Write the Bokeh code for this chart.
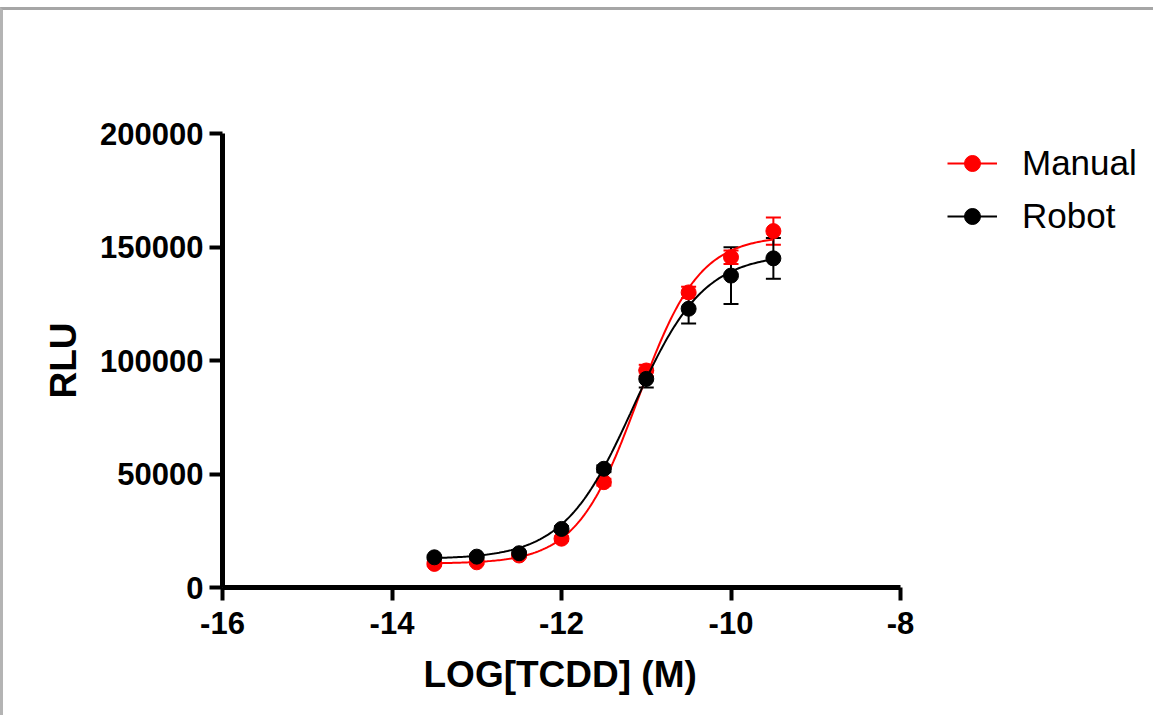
import numpy as np
from bokeh.plotting import figure
from bokeh.models import (Range1d, FixedTicker, Legend, LegendItem, Whisker,
                          ColumnDataSource, TeeHead, Title)
from bokeh.embed import file_html
from bokeh.resources import INLINE

# ---- data ----
log_tcdd = [-13.5, -13.0, -12.5, -12.0, -11.5, -11.0, -10.5, -10.0, -9.5]
manual_mean = [10400, 11100, 14100, 21500, 46400, 95600, 130000, 145500, 157000]
manual_sem = [800, 800, 800, 1000, 1500, 2500, 2500, 3000, 6000]
robot_mean = [13300, 13600, 15100, 25800, 52300, 91900, 122800, 137400, 145000]
robot_sem = [800, 800, 800, 1200, 1500, 3800, 6500, 12500, 9000]

# fitted 4-parameter logistic curves (bottom, top, logEC50, hill slope)
manual_fit = dict(bottom=10500, top=155000, logec50=-11.10, hill=1.20)
robot_fit = dict(bottom=12500, top=147000, logec50=-11.15, hill=1.05)

x_ticks = [-16, -14, -12, -10, -8]
y_ticks = [0, 50000, 100000, 150000, 200000]
series_names = ["Manual", "Robot"]
series_colors = ["#ff0000", "#000000"]
x_title = "LOG[TCDD] (M)"
y_title = "RLU"

FONT = "Liberation Sans"

# layout: the x axis spans 678 px for [-16, -8]; the frame continues to the
# right so the legend can sit beside the axes inside the frame
AXIS_PX = 678
FRAME_W = 931
FRAME_H = 454
x_start, x_end_axis = x_ticks[0], x_ticks[-1]
x_end = x_start + (x_end_axis - x_start) * FRAME_W / AXIS_PX


def fit_curve(params, xs):
    return params["bottom"] + (params["top"] - params["bottom"]) / (
        1 + 10 ** ((params["logec50"] - xs) * params["hill"]))


p = figure(frame_width=FRAME_W, frame_height=FRAME_H,
           output_backend="svg", toolbar_location=None,
           x_range=Range1d(x_start, x_end), y_range=Range1d(y_ticks[0], y_ticks[-1]),
           min_border_left=219, min_border_right=0,
           min_border_top=123, min_border_bottom=128)
p.styles = {"margin-top": "7px",
            "border-top": "3px solid #a6a6a6",
            "border-left": "3px solid #b4b4b4"}
p.outline_line_color = None
p.grid.visible = False
p.background_fill_color = "white"
p.border_fill_color = "white"

for ax in (p.xaxis[0], p.yaxis[0]):
    ax.axis_line_width = 5
    ax.axis_line_color = "black"
    ax.major_tick_line_width = 4
    ax.major_tick_line_color = "black"
    ax.major_tick_out = 13
    ax.major_tick_in = 0
    ax.minor_tick_line_color = None
    ax.major_label_text_font = FONT
    ax.major_label_text_font_style = "bold"
    ax.major_label_text_font_size = "31px"
    ax.major_label_text_color = "black"
    ax.axis_label_text_font = FONT
    ax.axis_label_text_font_style = "bold"
    ax.axis_label_text_color = "black"

p.xaxis.bounds = (x_start, x_end_axis)
p.xaxis.ticker = FixedTicker(ticks=x_ticks)
p.yaxis.ticker = FixedTicker(ticks=y_ticks)
p.xaxis.major_label_overrides = {t: str(t) for t in x_ticks}
p.yaxis.major_label_overrides = {t: str(t) for t in y_ticks}
p.xaxis.major_label_standoff = 11
p.yaxis.major_label_standoff = 6
p.yaxis.axis_label = y_title
p.yaxis.axis_label_text_font_size = "37px"
p.yaxis.axis_label_standoff = 13

# x-axis title, centred under the axis itself (not under the wider frame)
xt = Title(text=x_title, align="left", offset=201, standoff=30,
           text_font=FONT, text_font_style="bold", text_font_size="37px",
           text_color="black")
p.add_layout(xt, "below")

xs = np.linspace(log_tcdd[0], log_tcdd[-1], 200)
items = []
for name, color, mean, sem, fit in [
        ("Manual", series_colors[0], manual_mean, manual_sem, manual_fit),
        ("Robot", series_colors[1], robot_mean, robot_sem, robot_fit)]:
    src = ColumnDataSource(dict(x=log_tcdd, y=mean,
                                upper=[m + s for m, s in zip(mean, sem)],
                                lower=[m - s for m, s in zip(mean, sem)]))
    line = p.line(xs, fit_curve(fit, xs), line_color=color, line_width=2)
    w = Whisker(source=src, base="x", upper="upper", lower="lower",
                line_color=color, line_width=2,
                upper_head=TeeHead(size=15, line_color=color, line_width=2),
                lower_head=TeeHead(size=15, line_color=color, line_width=2))
    p.add_layout(w)
    pts = p.scatter("x", "y", source=src, size=15, marker="circle",
                    fill_color=color, line_color=color)
    items.append(LegendItem(label=name, renderers=[line, pts]))

legend = Legend(items=items, location=(725, 351), orientation="vertical",
                glyph_width=50, glyph_height=40, label_height=40,
                label_standoff=25, spacing=13, padding=0, margin=0,
                label_text_font=FONT, label_text_font_size="35px",
                label_text_color="black", border_line_color=None,
                background_fill_alpha=0)
p.add_layout(legend, "center")

open("out.html", "w").write(file_html(p, INLINE))
